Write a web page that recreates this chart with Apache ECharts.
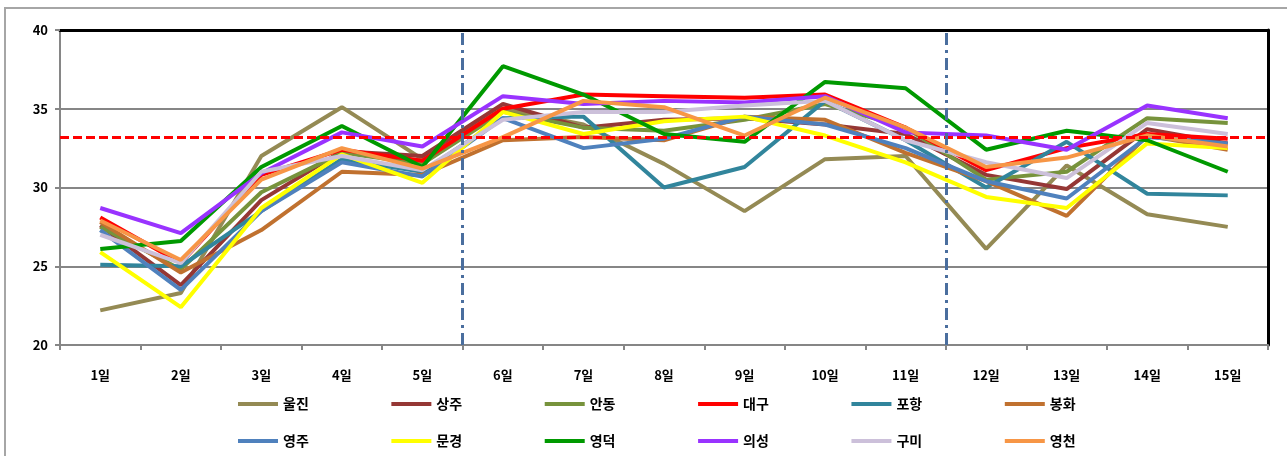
<!DOCTYPE html>
<html>
<head>
<meta charset="utf-8">
<script src="https://cdn.jsdelivr.net/npm/echarts@6/dist/echarts.min.js"></script>
<style>
  html, body { margin: 0; padding: 0; background: #ffffff; }
  #chart { width: 1287px; height: 456px; }
</style>
</head>
<body>
<div id="chart"></div>
<script>
// Daily maximum temperature (°C) by station, days 1–15
const days = ['1일','2일','3일','4일','5일','6일','7일','8일','9일','10일','11일','12일','13일','14일','15일'];
const stations = ['울진','상주','안동','대구','포항','봉화','영주','문경','영덕','의성','구미','영천'];

const uljin     = [22.2, 23.3, 32.0, 35.1, 31.8, 35.0, 34.0, 31.5, 28.5, 31.8, 32.0, 26.1, 31.4, 28.3, 27.5];
const sangju    = [27.6, 23.8, 29.2, 32.3, 32.0, 35.3, 33.8, 34.3, 34.4, 34.0, 33.4, 30.8, 29.9, 33.7, 32.8];
const andong    = [27.5, 24.8, 29.7, 32.2, 31.5, 34.8, 33.8, 33.6, 34.3, 35.3, 33.8, 30.5, 31.0, 34.4, 34.1];
const daegu     = [28.1, 25.2, 30.8, 32.4, 31.7, 35.0, 35.9, 35.8, 35.7, 35.9, 33.8, 31.1, 32.5, 33.4, 33.1];
const pohang    = [25.1, 25.0, 28.5, 31.8, 31.0, 34.4, 34.5, 30.0, 31.3, 35.5, 33.0, 30.0, 32.9, 29.6, 29.5];
const bonghwa   = [27.8, 24.6, 27.3, 31.0, 30.8, 33.0, 33.2, 33.0, 34.5, 34.3, 32.2, 30.4, 28.2, 33.3, 32.4];
const yeongju   = [27.3, 23.5, 28.5, 31.6, 30.7, 34.4, 32.5, 33.1, 34.5, 34.0, 32.5, 30.4, 29.3, 33.2, 32.8];
const mungyeong = [25.9, 22.4, 28.7, 32.1, 30.3, 34.8, 33.4, 34.2, 34.5, 33.3, 31.6, 29.4, 28.7, 32.8, 32.5];
const yeongdeok = [26.1, 26.6, 31.3, 33.9, 31.3, 37.7, 35.9, 33.4, 32.9, 36.7, 36.3, 32.4, 33.6, 33.0, 31.0];
const uiseong   = [28.7, 27.1, 30.9, 33.5, 32.6, 35.8, 35.3, 35.5, 35.4, 35.8, 33.5, 33.3, 32.4, 35.2, 34.4];
const gumi      = [27.0, 25.2, 31.0, 32.0, 31.1, 34.3, 34.8, 34.8, 35.2, 35.5, 33.0, 31.6, 30.6, 34.1, 33.4];
const yeongcheon= [27.9, 25.4, 30.5, 32.5, 31.2, 33.2, 35.5, 35.1, 33.3, 35.7, 33.8, 31.3, 31.9, 33.3, 32.6];

const stationValues = [uljin, sangju, andong, daegu, pohang, bonghwa, yeongju, mungyeong, yeongdeok, uiseong, gumi, yeongcheon];

// Reference temperature and period boundaries (after day 5 and after day 11)
const refLevel = 33.2;
const periodBreaks = [5, 11];

const yTicks = { min: 20, max: 40, step: 5 };

const lineColors = ['#948A54','#953735','#77933C','#FF0000','#31859C','#C0712F',
                    '#4F81BD','#FFFF00','#009900','#9933FF','#CCC0DA','#F79646'];

const FONT = '"Noto Sans CJK KR", "Noto Sans", sans-serif';
const GRID_GRAY = '#868686';

const chart = echarts.init(document.getElementById('chart'), null, { renderer: 'canvas' });

const lineSeries = stations.map((name, i) => ({
  name: name,
  type: 'line',
  data: stationValues[i],
  xAxisIndex: 0,
  yAxisIndex: 0,
  showSymbol: false,
  symbol: 'none',
  color: lineColors[i],
  lineStyle: { width: 4, color: lineColors[i] },
  z: 3 + i * 0.01,
  animation: false
}));

// Helper series carrying the reference line and the period separators
const guideSeries = [
  {
    type: 'line',
    xAxisIndex: 0,
    yAxisIndex: 0,
    data: [],
    silent: true,
    z: 5,
    markLine: {
      silent: true,
      symbol: ['none', 'none'],
      label: { show: false },
      animation: false,
      lineStyle: { color: '#FF0000', width: 3, type: [9, 4] },
      data: [{ yAxis: refLevel }]
    }
  },
  {
    type: 'line',
    xAxisIndex: 1,
    yAxisIndex: 0,
    data: [],
    silent: true,
    z: 5,
    markLine: {
      silent: true,
      symbol: ['none', 'none'],
      label: { show: false },
      animation: false,
      lineStyle: { color: '#4A6E9E', width: 3, type: [12, 5, 3, 5] },
      data: periodBreaks.map(v => ({ xAxis: v }))
    }
  }
];

// Legend: six entries per row, evenly spaced
const legendBase = {
  orient: 'horizontal',
  icon: 'rect',
  itemWidth: 40,
  itemHeight: 4,
  itemGap: 82.6,
  selectedMode: false,
  textStyle: { fontFamily: FONT, fontWeight: 'bold', fontSize: 14, color: '#000' }
};

const option = {
  animation: false,
  backgroundColor: '#ffffff',
  graphic: [{
    type: 'rect',
    shape: { x: 5, y: 8, width: 1300, height: 470 },
    style: { fill: 'none', stroke: '#A6A6A6', lineWidth: 2 },
    silent: true,
    z: -10
  }],
  grid: { left: 60, right: 19, top: 30, bottom: 111, containLabel: false },
  legend: [
    Object.assign({}, legendBase, { left: 233, top: 392, data: stations.slice(0, 6) }),
    Object.assign({}, legendBase, { left: 233, top: 429, data: stations.slice(6) })
  ],
  xAxis: [
    {
      type: 'category',
      data: days,
      boundaryGap: true,
      axisLine: { show: true, lineStyle: { color: GRID_GRAY, width: 2 } },
      axisTick: { show: true, length: 5, lineStyle: { color: GRID_GRAY, width: 2 } },
      axisLabel: { color: '#000', fontFamily: FONT, fontWeight: 'bold', fontSize: 13, margin: 24 },
      splitLine: { show: false }
    },
    {
      type: 'value',
      min: 0,
      max: days.length,
      position: 'top',
      axisLine: { show: true, onZero: false, lineStyle: { color: '#000', width: 3 } },
      axisTick: { show: false },
      axisLabel: { show: false },
      splitLine: { show: false }
    }
  ],
  yAxis: [
    {
      type: 'value',
      min: yTicks.min,
      max: yTicks.max,
      interval: yTicks.step,
      axisLine: { show: true, lineStyle: { color: GRID_GRAY, width: 2 } },
      axisTick: { show: true, length: 5, lineStyle: { color: GRID_GRAY, width: 2 } },
      axisLabel: { color: '#000', fontFamily: FONT, fontWeight: 'bold', fontSize: 13, margin: 12 },
      splitLine: { show: true, lineStyle: { color: GRID_GRAY, width: 2 } }
    },
    {
      type: 'value',
      min: yTicks.min,
      max: yTicks.max,
      position: 'right',
      axisLine: { show: true, onZero: false, lineStyle: { color: '#000', width: 3 } },
      axisTick: { show: false },
      axisLabel: { show: false },
      splitLine: { show: false }
    }
  ],
  series: lineSeries.concat(guideSeries)
};

chart.setOption(option);
</script>
</body>
</html>
